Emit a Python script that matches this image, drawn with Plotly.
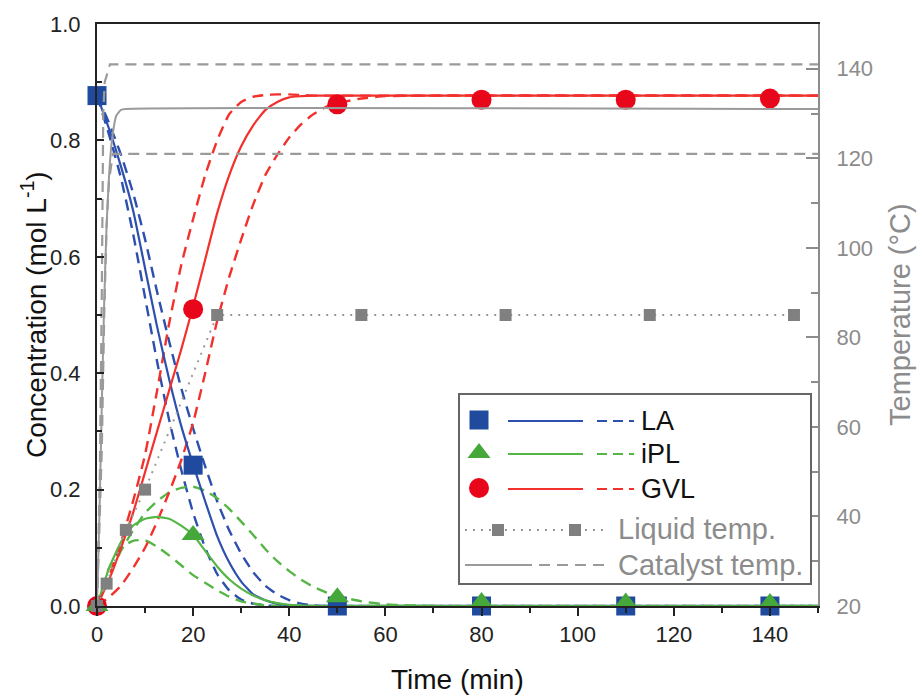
import plotly.graph_objects as go

# ---------------- data ----------------
# measured concentrations (mol/L)
t_exp = [0, 20, 50, 80, 110, 140]
la_exp = [0.877, 0.242, 0.0, 0.0, 0.0, 0.0]
ipl_exp = [0.0, 0.122, 0.015, 0.007, 0.006, 0.005]
gvl_exp = [0.0, 0.51, 0.862, 0.87, 0.87, 0.872]

# model curves (solid = fit, dashed = confidence band)
t_model = [0, 2.5, 5, 7.5, 10, 12.5, 15, 17.5, 20, 22.5, 25, 27.5, 30, 32.5,
           35, 37.5, 40, 42.5, 45, 47.5, 50, 55, 60, 70, 150]
la_fit = [0.877, 0.82, 0.755, 0.68, 0.58, 0.48, 0.39, 0.31, 0.243, 0.18, 0.12, 0.075,
          0.042, 0.02, 0.01, 0.004, 0.001, 0, 0, 0, 0, 0, 0, 0, 0]
la_lo = [0.877, 0.81, 0.735, 0.64, 0.53, 0.42, 0.32, 0.235, 0.16, 0.10, 0.055, 0.027,
         0.011, 0.004, 0.001, 0, 0, 0, 0, 0, 0, 0, 0, 0, 0]
la_hi = [0.877, 0.83, 0.775, 0.71, 0.63, 0.54, 0.455, 0.375, 0.305, 0.24, 0.18, 0.13,
         0.09, 0.058, 0.035, 0.02, 0.01, 0.004, 0.001, 0, 0, 0, 0, 0, 0]

ipl_fit = [0, 0.065, 0.11, 0.138, 0.15, 0.153, 0.15, 0.138, 0.122, 0.095, 0.068, 0.046,
           0.03, 0.018, 0.01, 0.005, 0.002, 0.001, 0, 0, 0, 0, 0, 0, 0]
ipl_lo = [0, 0.065, 0.1, 0.112, 0.113, 0.102, 0.087, 0.07, 0.053, 0.04, 0.027, 0.016,
          0.008, 0.004, 0.001, 0, 0, 0, 0, 0, 0, 0, 0, 0, 0]
ipl_hi = [0, 0.05, 0.095, 0.13, 0.16, 0.18, 0.195, 0.203, 0.205, 0.198, 0.185, 0.167,
          0.145, 0.122, 0.098, 0.077, 0.06, 0.045, 0.033, 0.024, 0.017, 0.008, 0.003, 0, 0]

gvl_fit = [0, 0.045, 0.10, 0.16, 0.23, 0.30, 0.37, 0.44, 0.515, 0.595, 0.675, 0.74,
           0.79, 0.826, 0.852, 0.866, 0.874, 0.876, 0.877, 0.877, 0.877, 0.877, 0.877,
           0.877, 0.877]
gvl_fast = [0, 0.05, 0.11, 0.18, 0.26, 0.37, 0.485, 0.585, 0.665, 0.74, 0.80, 0.845,
            0.866, 0.875, 0.878, 0.879, 0.879, 0.878, 0.877, 0.877, 0.877, 0.877, 0.877,
            0.877, 0.877]
gvl_slow = [0, 0.015, 0.035, 0.065, 0.10, 0.145, 0.195, 0.25, 0.315, 0.40, 0.49, 0.565,
            0.63, 0.69, 0.74, 0.775, 0.805, 0.828, 0.845, 0.857, 0.864, 0.872, 0.876,
            0.877, 0.877]

# temperatures (degC)
t_liq = [0, 2, 6, 10, 25, 55, 85, 115, 145]
T_liq = [20, 25, 37, 46, 85, 85, 85, 85, 85]

t_cat = [0, 0.5, 1, 1.5, 2, 2.5, 3, 3.5, 4, 5, 6, 150]
T_cat = [20, 40, 65, 88, 105, 116, 123, 127, 129.5, 130.8, 131, 131]
t_cat_hi = [0, 0.6, 1.0, 1.3, 1.6, 2.7, 150]
T_cat_hi = [20, 50, 90, 130, 137, 141, 141]
t_cat_lo = [0, 1, 1.5, 2, 2.5, 3.3, 150]
T_cat_lo = [20, 55, 85, 105, 115, 121, 121]

# ---------------- styles ----------------
FONT = "Arial, 'Liberation Sans', sans-serif"
BLUE_M, BLUE_L = "#1f4a9e", "#2d4fae"
GREEN_M, GREEN_L = "#46a83a", "#55b545"
RED_M, RED_L = "#e8071a", "#f2312c"
GRAY, GRAY_M = "#9a9a9a", "#808080"
DASH = "11px,7px"

fig = go.Figure()

# temperature traces on the secondary axis
fig.add_trace(go.Scatter(x=t_cat_hi, y=T_cat_hi, yaxis="y2", mode="lines",
                         line=dict(color=GRAY, width=2.2, dash=DASH)))
fig.add_trace(go.Scatter(x=t_cat_lo, y=T_cat_lo, yaxis="y2", mode="lines",
                         line=dict(color=GRAY, width=2.2, dash=DASH)))
fig.add_trace(go.Scatter(x=t_cat, y=T_cat, yaxis="y2", mode="lines",
                         line=dict(color=GRAY, width=2, shape="spline", smoothing=0.6)))
fig.add_trace(go.Scatter(x=t_liq, y=T_liq, yaxis="y2", mode="lines+markers",
                         line=dict(color=GRAY, width=2, dash="2px,6px"),
                         marker=dict(symbol="square", size=12, color=GRAY_M),
                         cliponaxis=False))

# concentration model curves
for ys, col in [(la_lo, BLUE_L), (la_hi, BLUE_L), (ipl_lo, GREEN_L), (ipl_hi, GREEN_L),
                (gvl_fast, RED_L), (gvl_slow, RED_L)]:
    fig.add_trace(go.Scatter(x=t_model, y=ys, mode="lines",
                             line=dict(color=col, width=2.4, dash=DASH,
                                       shape="spline", smoothing=0.5)))
for ys, col in [(la_fit, BLUE_L), (ipl_fit, GREEN_L), (gvl_fit, RED_L)]:
    fig.add_trace(go.Scatter(x=t_model, y=ys, mode="lines",
                             line=dict(color=col, width=2.2, shape="spline", smoothing=0.5)))

# measured points
fig.add_trace(go.Scatter(x=t_exp, y=la_exp, mode="markers", cliponaxis=False,
                         marker=dict(symbol="square", size=19, color=BLUE_M)))
fig.add_trace(go.Scatter(x=t_exp, y=gvl_exp, mode="markers", cliponaxis=False,
                         marker=dict(symbol="circle", size=20, color=RED_M)))
fig.add_trace(go.Scatter(x=t_exp, y=ipl_exp, mode="markers", cliponaxis=False,
                         marker=dict(symbol="triangle-up", size=20, color=GREEN_M)))

# ---------------- legend panel (own axes, local pixel units) ----------------
def leg_line(x0, x1, y, color, dash=None, width=2.2):
    fig.add_trace(go.Scatter(x=[x0, x1], y=[y, y], xaxis="x3", yaxis="y3", mode="lines",
                             line=dict(color=color, width=width, dash=dash)))

def leg_marker(x, y, symbol, size, color):
    fig.add_trace(go.Scatter(x=x, y=y, xaxis="x3", yaxis="y3", mode="markers",
                             marker=dict(symbol=symbol, size=size, color=color),
                             cliponaxis=False))

rows = [("LA", 25, "square", 19, BLUE_M, BLUE_L),
        ("iPL", 58, "triangle-up", 20, GREEN_M, GREEN_L),
        ("GVL", 93, "circle", 20, RED_M, RED_L)]
annotations = []
for name, y, sym, sz, mc, lc in rows:
    leg_marker([19], [y], sym, sz, mc)
    leg_line(48, 123, y + 1, lc)
    leg_line(137, 174, y + 1, lc, dash="10px,6px")
    annotations.append(dict(xref="x3", yref="y3", x=179, y=y + 1, text=name,
                            showarrow=False, xanchor="left", yanchor="middle",
                            font=dict(family=FONT, size=27, color="#111")))

leg_line(5, 147, 135, GRAY, dash="2px,6px", width=2)
leg_marker([38, 115], [135, 135], "square", 12, GRAY_M)
annotations.append(dict(xref="x3", yref="y3", x=156, y=134, text="Liquid temp.",
                        showarrow=False, xanchor="left", yanchor="middle",
                        font=dict(family=FONT, size=29, color="#8c8c8c")))
leg_line(5, 72, 170, GRAY, width=2)
leg_line(79, 147, 170, GRAY, dash="11px,7px", width=2.2)
annotations.append(dict(xref="x3", yref="y3", x=156, y=170, text="Catalyst temp.",
                        showarrow=False, xanchor="left", yanchor="middle",
                        font=dict(family=FONT, size=29, color="#8c8c8c")))

# axis titles
annotations += [
    dict(xref="paper", yref="paper", x=0.5, y=0, yshift=-73, text="Time (min)",
         showarrow=False, xanchor="center", yanchor="middle",
         font=dict(family=FONT, size=28, color="#111")),
    dict(xref="paper", yref="paper", x=0, y=0.5, xshift=-63,
         text="Concentration (mol L<sup>-1</sup>)", textangle=-90,
         showarrow=False, xanchor="center", yanchor="middle",
         font=dict(family=FONT, size=28, color="#111")),
    dict(xref="paper", yref="paper", x=1, y=0.5, xshift=82, text="Temperature (°C)",
         textangle=-90, showarrow=False, xanchor="center", yanchor="middle",
         font=dict(family=FONT, size=29, color="#8c8c8c")),
]

W, H = 917, 697
ML, MR, MT, MB = 97, 99, 24, 91
pw, ph = W - ML - MR, H - MT - MB

def px_x(p):
    return (p - ML) / pw

def px_y(p):
    return (H - MB - p) / ph

fig.update_layout(
    width=W, height=H, autosize=False,
    margin=dict(l=ML, r=MR, t=MT, b=MB, pad=0),
    paper_bgcolor="white", plot_bgcolor="white",
    showlegend=False,
    font=dict(family=FONT, color="#111"),
    annotations=annotations,
    xaxis=dict(range=[0, 150], tick0=0, dtick=20, showgrid=False, zeroline=False,
               showline=True, linecolor="#222", linewidth=2, mirror=True,
               ticks="outside", ticklen=8, tickwidth=2, tickcolor="#222",
               minor=dict(dtick=10, ticks="outside", ticklen=5, tickwidth=1.5,
                          tickcolor="#222"),
               tickfont=dict(family=FONT, size=22, color="#222")),
    yaxis=dict(range=[0, 1], tick0=0, dtick=0.2, tickformat=".1f", showgrid=False,
               zeroline=False, showline=True, linecolor="#222", linewidth=2,
               ticks="inside", ticklen=7, tickwidth=2, tickcolor="#222",
               minor=dict(dtick=0.1, ticks="inside", ticklen=5, tickwidth=1.5,
                          tickcolor="#222"),
               ticklabelstandoff=10,
               tickfont=dict(family=FONT, size=22, color="#222")),
    yaxis2=dict(range=[20, 150], tick0=20, dtick=20, overlaying="y", side="right",
                showgrid=False, zeroline=False, showline=True, linecolor="#8c8c8c",
                linewidth=2, ticks="inside", ticklen=12, tickwidth=2,
                tickcolor="#8c8c8c",
                minor=dict(dtick=10, ticks="inside", ticklen=7, tickwidth=1.5,
                           tickcolor="#8c8c8c"),
                ticklabelstandoff=12,
                tickfont=dict(family=FONT, size=22, color="#8c8c8c")),
    xaxis3=dict(domain=[px_x(460), px_x(810)], range=[0, 350], anchor="y3",
                showgrid=False, zeroline=False, showticklabels=False, ticks="",
                showline=True, mirror=True, linecolor="#666", linewidth=1.5,
                fixedrange=True),
    yaxis3=dict(domain=[px_y(583), px_y(395)], range=[188, 0], anchor="x3",
                showgrid=False, zeroline=False, showticklabels=False, ticks="",
                showline=True, mirror=True, linecolor="#666", linewidth=1.5,
                fixedrange=True),
)

fig.write_html("out.html")
